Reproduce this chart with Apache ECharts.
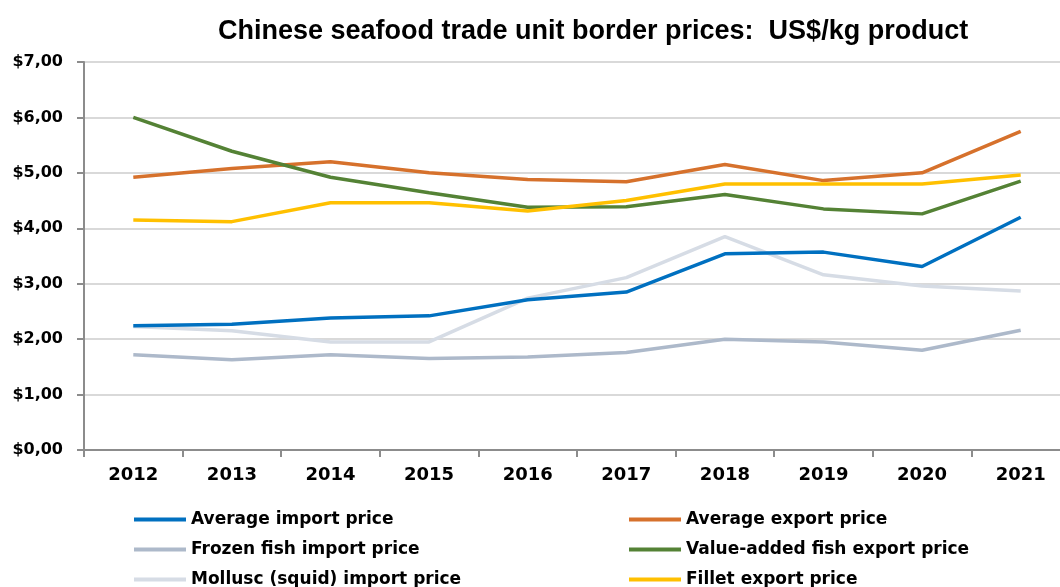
<!DOCTYPE html>
<html>
<head>
<meta charset="utf-8">
<script src="https://cdn.jsdelivr.net/npm/echarts@6/dist/echarts.min.js"></script>
<style>
  html, body { margin: 0; padding: 0; background: #fff; }
  #chart { width: 1060px; height: 587px; }
</style>
</head>
<body>
<div id="chart"></div>
<script>
var years = ['2012', '2013', '2014', '2015', '2016', '2017', '2018', '2019', '2020', '2021'];
var avgImport = [2.24, 2.27, 2.38, 2.42, 2.71, 2.85, 3.54, 3.57, 3.31, 4.20];
var avgExport = [4.92, 5.08, 5.20, 5.00, 4.88, 4.84, 5.15, 4.86, 5.00, 5.75];
var frozenImport = [1.72, 1.63, 1.72, 1.65, 1.68, 1.76, 2.00, 1.95, 1.80, 2.16];
var valueAddedExport = [6.00, 5.39, 4.92, 4.64, 4.38, 4.39, 4.61, 4.35, 4.26, 4.85];
var molluscImport = [2.23, 2.15, 1.95, 1.95, 2.74, 3.11, 3.85, 3.16, 2.96, 2.87];
var filletExport = [4.15, 4.12, 4.46, 4.46, 4.31, 4.50, 4.80, 4.80, 4.80, 4.96];

var myChart = echarts.init(document.getElementById('chart'));

var line = function (name, data, color) {
    return {
        name: name,
        type: 'line',
        data: data,
        symbol: 'none',
        color: color,
        lineStyle: { color: color, width: 3.5 }
    };
};

var legendText = {
    fontFamily: 'DejaVu Sans',
    fontWeight: 'bold',
    fontSize: 17,
    color: '#000'
};

var option = {
    animation: false,
    backgroundColor: '#fff',
    title: {
        text: 'Chinese seafood trade unit border prices:  US$/kg product',
        left: 213,
        top: 13,
        textStyle: {
            fontFamily: 'Liberation Sans',
            fontWeight: 'bold',
            fontSize: 27,
            color: '#000'
        }
    },
    legend: [{
        orient: 'vertical',
        left: 129,
        top: 506,
        height: 120,
        itemGap: 13,
        itemWidth: 52,
        itemHeight: 4,
        icon: 'rect',
        data: ['Average import price', 'Frozen fish import price', 'Mollusc (squid) import price'],
        textStyle: legendText
    }, {
        orient: 'vertical',
        left: 624,
        top: 506,
        height: 120,
        itemGap: 13,
        itemWidth: 52,
        itemHeight: 4,
        icon: 'rect',
        data: ['Average export price', 'Value-added fish export price', 'Fillet export price'],
        textStyle: legendText
    }],
    grid: {
        left: 84,
        width: 986,
        top: 62,
        height: 388,
        containLabel: false,
        outerBoundsMode: 'none'
    },
    xAxis: {
        type: 'category',
        data: years,
        boundaryGap: true,
        axisLine: { lineStyle: { color: '#8c8c8c', width: 2 } },
        axisTick: { show: true, length: 7, lineStyle: { color: '#8c8c8c', width: 2 } },
        axisLabel: {
            margin: 16,
            fontFamily: 'DejaVu Sans',
            fontWeight: 'bold',
            fontSize: 18,
            color: '#000'
        },
        splitLine: { show: false }
    },
    yAxis: {
        type: 'value',
        min: 0,
        max: 7,
        interval: 1,
        axisLine: { show: true, lineStyle: { color: '#8c8c8c', width: 2 } },
        axisTick: { show: true, length: 7, lineStyle: { color: '#8c8c8c', width: 2 } },
        axisLabel: {
            margin: 21,
            fontFamily: 'DejaVu Sans',
            fontWeight: 'bold',
            fontSize: 16,
            color: '#000',
            formatter: function (v) {
                return '$' + v.toFixed(2).replace('.', ',');
            }
        },
        splitLine: { lineStyle: { color: '#d9d9d9', width: 2 } }
    },
    series: [
        line('Mollusc (squid) import price', molluscImport, '#d6dce5'),
        line('Frozen fish import price', frozenImport, '#adb9ca'),
        line('Average export price', avgExport, '#d6712c'),
        line('Value-added fish export price', valueAddedExport, '#548235'),
        line('Fillet export price', filletExport, '#ffc000'),
        line('Average import price', avgImport, '#0070c0')
    ]
};
myChart.setOption(option);
</script>
</body>
</html>
